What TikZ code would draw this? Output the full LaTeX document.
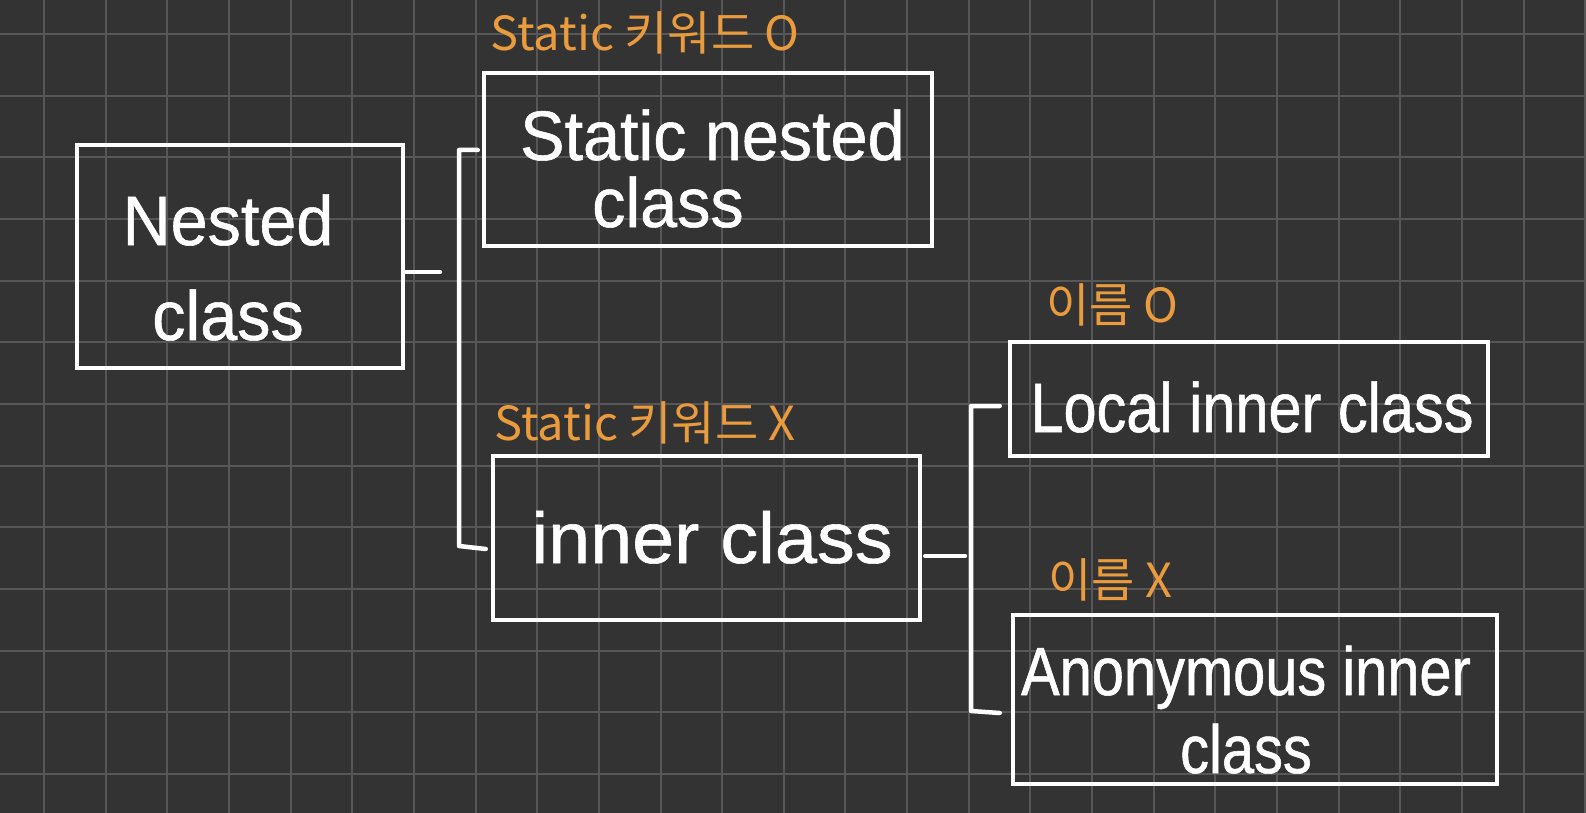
\documentclass[tikz,border=0pt]{standalone}
\usepackage{fontspec}
\newfontfamily\handn{Liberation Sans}[FakeStretch=0.85,FakeBold=0.8]
\newfontfamily\handm{Liberation Sans}[FakeStretch=0.95,FakeBold=0.8]
\newfontfamily\handw{Liberation Sans}[FakeStretch=1.05,FakeBold=0.8]
\newfontfamily\kr{Noto Sans CJK KR}
\definecolor{bg}{HTML}{333333}
\definecolor{gridc}{HTML}{575757}
\definecolor{notec}{HTML}{EA9B3D}
\begin{document}
\begin{tikzpicture}[x=1pt,y=-1pt,
  box/.style={draw=white, line width=4.5pt, inner sep=0pt},
  txt/.style={text=white, inner sep=0pt, anchor=base},
  link/.style={draw=white, line width=4.5pt, line cap=round, line join=round},
  note/.style={text=notec, inner sep=0pt, font=\kr\fontsize{47}{50}\selectfont},
  gridline/.style={draw=gridc, line width=2pt}]
\fill[bg] (0,0) rectangle (1586,813);
\useasboundingbox (0,0) rectangle (1586,813);
\foreach \i in {0,...,25} \draw[gridline] ({44+61.65*\i},0) -- ({44+61.65*\i},813);
\foreach \j in {0,...,12} \draw[gridline] (0,{34+61.65*\j}) -- (1586,{34+61.65*\j});

% boxes
\node[box, minimum width=326pt, minimum height=223pt] (nested) at (240,256.5) {};
\node[box, minimum width=448pt, minimum height=173pt] (static) at (708,159.5) {};
\node[box, minimum width=427pt, minimum height=164pt] (inner) at (706.5,538) {};
\node[box, minimum width=478pt, minimum height=114pt] (local) at (1249,399) {};
\node[box, minimum width=484pt, minimum height=169pt] (anon) at (1255,699.5) {};

% texts in the boxes (anchor base = baseline of the last line)
\node[txt, align=center, font=\handm\fontsize{70}{95}\selectfont] (nestedT) at (228,340) {Nested\\class};
\node[txt, anchor=base west, align=left, font=\handm\fontsize{70}{67}\selectfont] (staticT) at (520,227) {Static nested\\\hspace*{72pt}class};
\node[txt, font=\handw\fontsize{72}{80}\selectfont] (innerT) at (712,563) {inner class};
\node[txt, font=\handn\fontsize{70}{80}\selectfont] (localT) at (1252,432) {Local inner class};
\node[txt, align=center, font=\handn\fontsize{68}{78}\selectfont] (anonT) at (1246,773) {Anonymous inner\\class};

% orange notes
\node[note] (lab1) at (645,33) {Static 키워드 O};
\node[note] (lab2) at (645,423) {Static 키워드 X};
\node[note] (lab3) at (1112,305) {이름 O};
\node[note] (lab4) at (1110,580) {이름 X};

% connectors
\coordinate (n1) at (440,272);
\coordinate (t1) at (459,150);
\coordinate (b1) at (459,546);
\draw[link] (nested.east |- n1) -- (n1);
\draw[link] ([xshift=-4pt]static.west |- t1) -- (t1) -- (b1) -- ([xshift=-5pt,yshift=-3pt]inner.west |- b1);

\coordinate (n2) at (965,556);
\coordinate (t2) at (971,406);
\coordinate (b2) at (971,711);
\draw[link] ([xshift=3pt]inner.east |- n2) -- (n2);
\draw[link] ([xshift=-8pt]local.west |- t2) -- (t2) -- (b2) -- ([xshift=-11pt,yshift=-2pt]anon.west |- b2);
\end{tikzpicture}
\end{document}
